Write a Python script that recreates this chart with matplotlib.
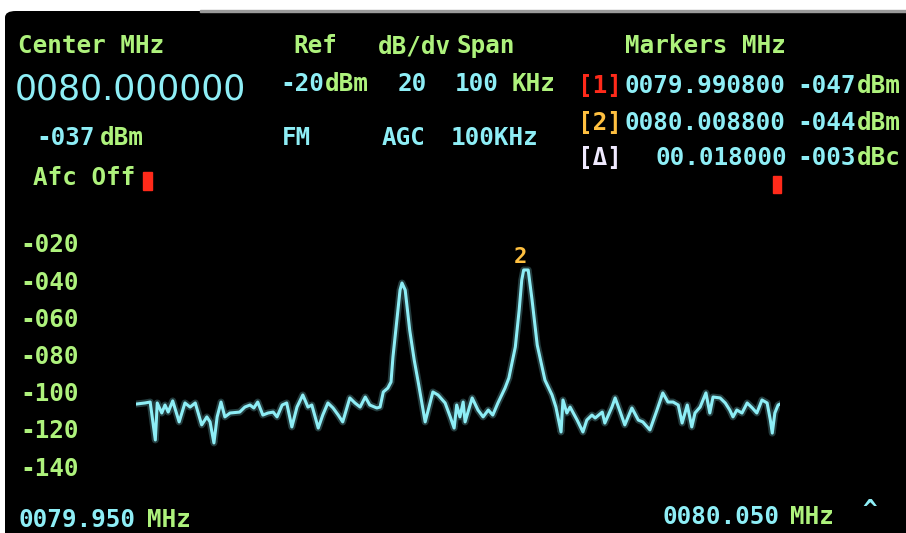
import matplotlib
matplotlib.use("Agg")
import matplotlib.pyplot as plt
from matplotlib.patches import Rectangle, FancyBboxPatch
import numpy as np

# ---- data (frequency offset from 80 MHz centre, in kHz; level in dBm) ----
freq_khz = [-50.0, -48.6, -47.8, -47.0, -46.7, -46.0, -45.5, -45.0, -44.3, -43.3,
            -42.4, -41.6, -40.8, -39.8, -39.0, -38.5, -37.9, -37.4, -36.8, -36.2,
            -35.4, -33.9, -33.1, -32.3, -31.7, -31.1, -30.3, -29.5, -28.7, -28.1,
            -27.3, -26.6, -25.8, -25.0, -24.1, -23.3, -22.7, -21.7, -21.0, -20.2,
            -19.4, -18.6, -17.9, -16.8, -16.0, -15.2, -14.4, -13.7, -12.6, -12.1,
            -11.6, -10.9, -10.4, -10.1, -9.5, -9.0, -8.7, -8.2, -7.5, -6.8,
            -6.1, -5.1, -3.9, -3.1, -2.0, -1.2, -0.6, -0.2, 0.3, 0.8,
            1.1, 2.2, 3.1, 3.9, 4.7, 5.4, 6.2, 7.3, 7.9, 8.9,
            9.5, 9.9, 10.2, 10.9, 11.5, 12.3, 13.5, 14.6, 15.2, 16.0,
            16.3, 16.9, 17.4, 18.5, 19.4, 20.0, 20.8, 21.3, 22.4, 22.8,
            23.9, 24.4, 25.2, 25.9, 27.0, 28.0, 28.7, 29.8, 30.9, 31.8,
            32.6, 33.4, 34.2, 34.8, 35.6, 36.3, 36.8, 37.6, 38.5, 39.1,
            39.6, 40.7, 41.5, 42.2, 42.7, 43.3, 44.1, 44.9, 45.7, 46.4,
            47.2, 48.0, 48.5, 48.8, 49.2, 49.7, 50.0]
level_dbm = [-106.6, -106.0, -105.5, -125.9, -106.0, -111.4, -107.1, -110.9, -104.9, -116.2,
             -106.0, -108.2, -106.0, -117.8, -113.5, -116.2, -127.5, -113.5, -105.5, -113.5,
             -111.4, -110.9, -108.2, -107.1, -108.7, -105.5, -112.5, -111.4, -110.9, -113.5,
             -107.1, -106.0, -118.9, -108.2, -101.7, -108.2, -107.1, -119.5, -112.5, -106.0,
             -108.7, -112.5, -116.2, -103.3, -106.0, -108.2, -102.8, -107.1, -108.7, -108.2,
             -100.1, -98.0, -94.7, -81.3, -61.4, -45.3, -41.5, -45.3, -66.8, -82.9,
             -96.3, -116.2, -100.1, -101.7, -106.0, -113.5, -119.5, -107.1, -113.5, -105.5,
             -116.2, -103.3, -109.8, -113.5, -109.8, -112.5, -106.0, -98.0, -92.6, -75.9,
             -56.0, -39.9, -34.5, -34.5, -50.6, -74.8, -93.7, -101.7, -108.2, -121.6,
             -104.4, -111.4, -108.2, -115.2, -121.6, -115.2, -112.5, -114.1, -110.9, -116.8,
             -108.2, -103.3, -110.9, -117.8, -108.7, -115.2, -116.2, -120.5, -109.8, -100.6,
             -105.5, -105.5, -107.1, -116.8, -107.1, -118.9, -111.4, -108.2, -100.6, -111.4,
             -102.8, -103.3, -106.0, -109.8, -113.5, -109.8, -111.4, -106.0, -108.7, -111.4,
             -104.4, -106.0, -115.2, -122.2, -111.4, -107.1, -106.6]

ytick_values = [-20, -40, -60, -80, -100, -120, -140]
ytick_labels = ["-020", "-040", "-060", "-080", "-100", "-120", "-140"]

W, H = 906, 533
GREEN = "#aef27c"
CYAN = "#8eeef6"
RED = "#ff2a1a"
ORANGE = "#ffc040"
WHITE = "#f0eaff"
MONO = "DejaVu Sans Mono"

fig = plt.figure(figsize=(W / 100, H / 100), dpi=100, facecolor="white")

# black screen (only the top-left corner is rounded; others run off the edge)
fig.add_artist(FancyBboxPatch((5 / W, -0.1), (W + 40) / W, 1.1 - 11 / H,
                              boxstyle="round,pad=0,rounding_size=0.012",
                              transform=fig.transFigure, facecolor="black",
                              edgecolor="none", zorder=0))
fig.add_artist(Rectangle((200 / W, 1 - 11.5 / H), 1, 1.2 / H,
                         transform=fig.transFigure, color="#9a9a9a", zorder=0))

ax = fig.add_axes([136 / W, 1 - 466.2 / H, 644 / W, (466.2 - 243) / H])
ax.set_facecolor("none")
ax.set_xlim(-50, 50)
ax.set_ylim(-140, -20)
for s in ax.spines.values():
    s.set_visible(False)
ax.set_xticks([])
ax.set_yticks(ytick_values)
ax.set_yticklabels(ytick_labels)
ax.tick_params(axis="y", length=0, pad=(136 - 20) * 0.72, labelcolor=GREEN,
               labelsize=17.5)
for lab in ax.get_yticklabels():
    lab.set_horizontalalignment("left")
    lab.set_family(MONO)
    lab.set_fontweight("bold")

ax.plot(freq_khz, level_dbm, color=CYAN, lw=5, alpha=0.25, solid_joinstyle="round")
ax.plot(freq_khz, level_dbm, color=CYAN, lw=2.2, solid_joinstyle="round")

# marker 2 on the strongest peak
i2 = int(np.argmax(level_dbm))
ax.annotate("2", xy=(freq_khz[i2], level_dbm[i2]), xytext=(-2, 2),
            textcoords="offset points", ha="center", va="bottom",
            color=ORANGE, fontsize=16, fontweight="bold", family=MONO)


def t(px, py, s, color, size=17.5, weight="bold", family=MONO, ha="left"):
    fig.text(px / W, 1 - py / H, s, color=color, fontsize=size,
             fontweight=weight, family=family, ha=ha, va="center")


# header row
t(18, 46, "Center MHz", GREEN)
t(293, 46, "Ref", GREEN)
t(378, 46, "dB/dv", GREEN)
t(457, 46, "Span", GREEN)
t(625, 46, "Markers MHz", GREEN)

# big centre frequency
t(15, 90, "0080.000000", CYAN, size=25, weight="normal", family="DejaVu Sans")

# second row
t(280, 84, "-20", CYAN)
t(325, 84, "dBm", GREEN)
t(398, 84, "20", CYAN)
t(455, 84, "100", CYAN)
t(512, 84, "KHz", GREEN)
t(578, 86, "[1]", RED)
t(625, 86, "0079.990800", CYAN)
t(797, 86, "-047", CYAN)
t(857, 86, "dBm", GREEN)

t(578, 123, "[2]", ORANGE)
t(625, 123, "0080.008800", CYAN)
t(797, 123, "-044", CYAN)
t(857, 123, "dBm", GREEN)

t(36, 138, "-037", CYAN)
t(100, 138, "dBm", GREEN)
t(282, 138, "FM", CYAN)
t(382, 138, "AGC", CYAN)
t(451, 138, "100KHz", CYAN)

t(578, 158, "[Δ]", WHITE)
t(787, 158, "00.018000", CYAN, ha="right")
t(797, 158, "-003", CYAN)
t(857, 158, "dBc", GREEN)

t(33, 178, "Afc Off", GREEN)

# red cursor blocks
fig.add_artist(Rectangle((143 / W, 1 - 190 / H), 9 / W, 18 / H,
                         transform=fig.transFigure, color=RED))
fig.add_artist(Rectangle((773 / W, 1 - 193 / H), 8 / W, 17 / H,
                         transform=fig.transFigure, color=RED))

# bottom frequency labels
t(18, 520, "0079.950", CYAN)
t(147, 520, "MHz", GREEN)
t(663, 517, "0080.050", CYAN)
t(790, 517, "MHz", GREEN)
t(870, 510, "^", CYAN, ha="center")

fig.savefig("out.png", dpi=100, facecolor="white")
